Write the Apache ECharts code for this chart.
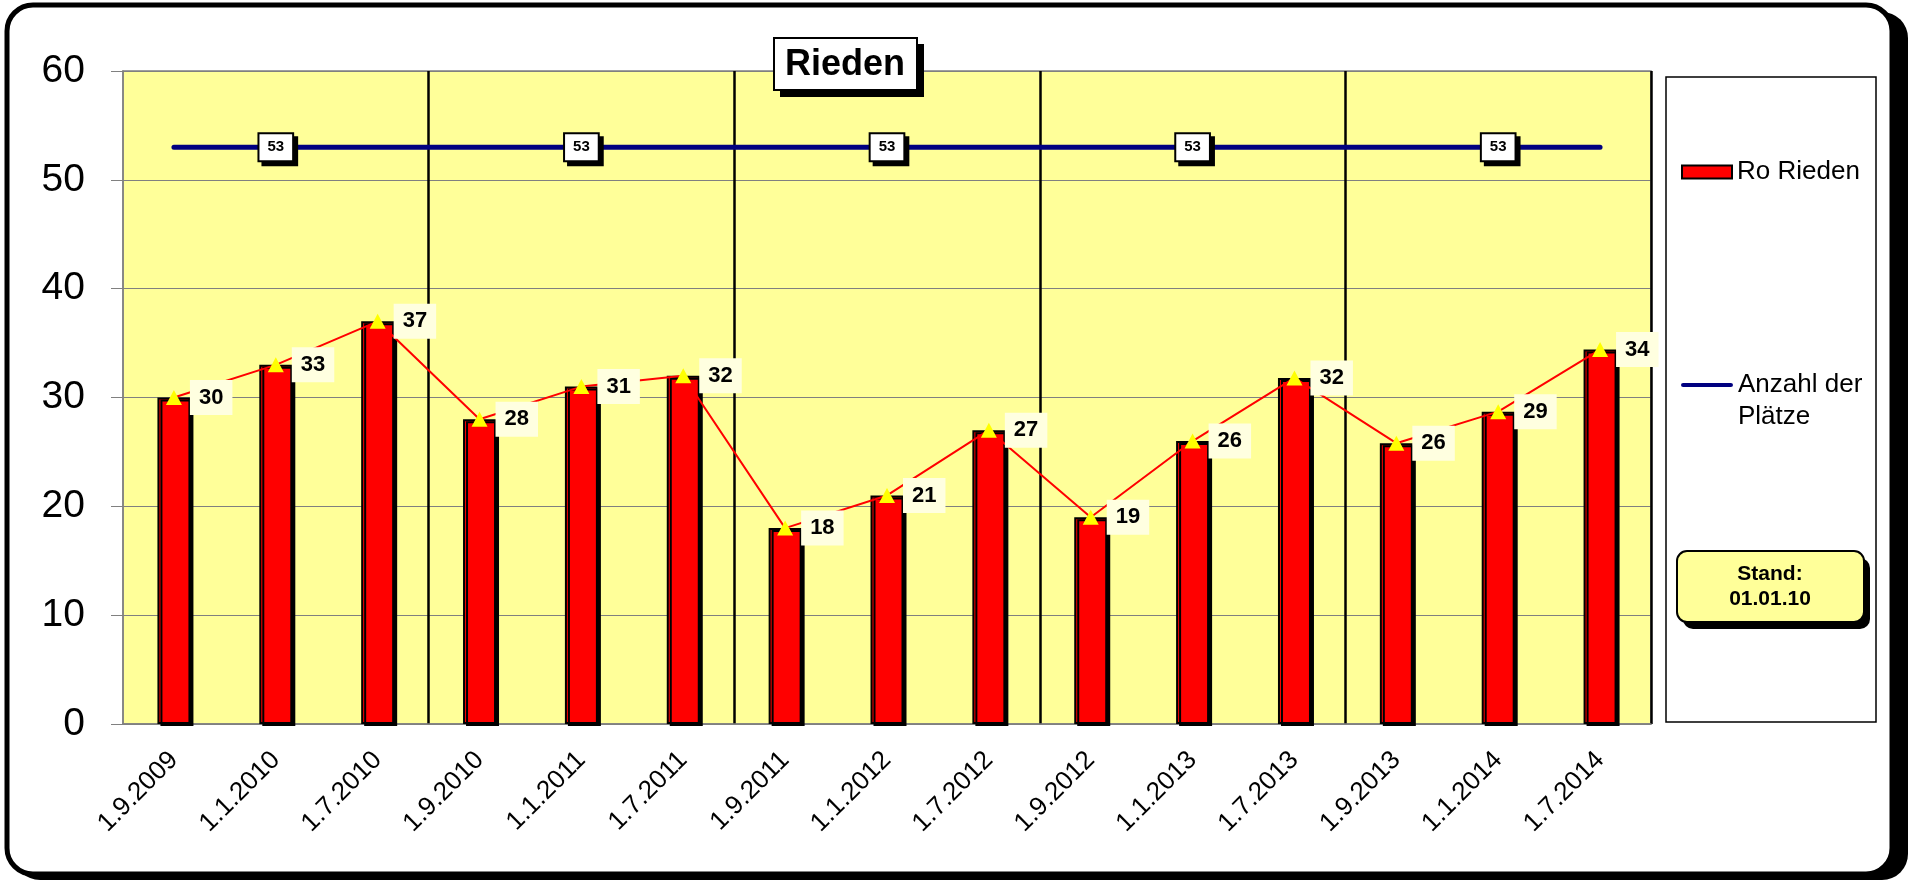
<!DOCTYPE html>
<html>
<head>
<meta charset="utf-8">
<title>Rieden</title>
<script src="https://cdn.jsdelivr.net/npm/echarts@6/dist/echarts.min.js"></script>
<style>
  html, body { margin: 0; padding: 0; background: #fff; }
  #chart { width: 1908px; height: 880px; }
</style>
</head>
<body>
<div id="chart"></div>
<script>
// Daten
const categories = [
  "1.9.2009", "1.1.2010", "1.7.2010",
  "1.9.2010", "1.1.2011", "1.7.2011",
  "1.9.2011", "1.1.2012", "1.7.2012",
  "1.9.2012", "1.1.2013", "1.7.2013",
  "1.9.2013", "1.1.2014", "1.7.2014",
];
const roRieden = [30, 33, 37, 28, 31, 32, 18, 21, 27, 19, 26, 31.8, 25.8, 28.7, 34.4];
const plaetze = [53, 53, 53, 53, 53, 53, 53, 53, 53, 53, 53, 53, 53, 53, 53];
const plaetzeLabelIdx = [1, 4, 7, 10, 13];
const yTicks = { min: 0, max: 60, interval: 10 };
const standText = "Stand:\n01.01.10";

const FONT = 'Arial, "Liberation Sans", sans-serif';
const C = {
  plot: "#FFFF99",
  bar: "#FF0000",
  navy: "#000080",
  grid: "#808080",
  labelBg: "#FFFFE0",
};

// Gruppengrenze alle 3 Kategorien
const groupEdge = (i) => i % 3 === 0;

const chart = echarts.init(document.getElementById("chart"), null, { renderer: "canvas" });

chart.setOption({
  animation: false,
  backgroundColor: "#fff",
  textStyle: { fontFamily: FONT, color: "#000" },
  grid: {
    left: 123, top: 71, right: 257, bottom: 156,
    show: true, backgroundColor: C.plot, borderColor: C.grid, borderWidth: 1.5,
  },
  legend: [
    {
      data: ["Ro Rieden"],
      left: 1676, top: 154,
      icon: "rect", itemWidth: 50, itemHeight: 13, itemGap: 0,
      itemStyle: { borderColor: "#000", borderWidth: 2, shadowColor: "transparent" },
      textStyle: { fontSize: 26, fontFamily: FONT, color: "#000" },
      selectedMode: false,
    },
    {
      data: ["Anzahl der Plätze"],
      left: 1676, top: 332,
      icon: "path://M2,0 L48,0 A2,2 0 0 1 48,4 L2,4 A2,2 0 0 1 2,0 Z",
      itemWidth: 52, itemHeight: 5,
      // erste Leerzeile, damit "Anzahl der" auf Höhe des Symbols steht
      formatter: () => "\nAnzahl der\nPlätze",
      textStyle: { fontSize: 26, lineHeight: 32, fontFamily: FONT, color: "#000" },
      selectedMode: false,
    },
  ],
  xAxis: {
    type: "category",
    data: categories,
    boundaryGap: true,
    axisLine: { lineStyle: { color: C.grid, width: 1.5 } },
    axisTick: { interval: (i) => groupEdge(i), length: 8, lineStyle: { color: C.grid } },
    splitLine: { show: true, interval: (i) => groupEdge(i) && i > 0, lineStyle: { color: "#000", width: 2.5 } },
    axisLabel: { interval: 0, rotate: 45, fontSize: 26, margin: 32, color: "#000", fontFamily: FONT },
  },
  yAxis: {
    type: "value",
    min: yTicks.min, max: yTicks.max, interval: yTicks.interval,
    axisLine: { show: true, lineStyle: { color: C.grid, width: 1.5 } },
    axisTick: { show: true, length: 12, lineStyle: { color: C.grid } },
    splitLine: { lineStyle: { color: C.grid, width: 1 } },
    axisLabel: { fontSize: 39, margin: 38, color: "#000", fontFamily: FONT },
  },
  series: [
    {
      name: "Ro Rieden",
      type: "bar",
      data: roRieden,
      barWidth: 33,
      z: 2,
      itemStyle: {
        color: C.bar, borderColor: "#000", borderWidth: 2,
        shadowColor: "#000", shadowOffsetX: 3, shadowOffsetY: 2, shadowBlur: 0,
      },
    },
    {
      name: "Verlauf",
      type: "line",
      data: roRieden,
      z: 4,
      symbol: "triangle",
      symbolSize: [16, 15],
      itemStyle: { color: "#FFFF00" },
      lineStyle: { color: "#FF0000", width: 2 },
      label: {
        show: true, position: "right", distance: 8,
        formatter: (p) => String(Math.round(p.value)),
        fontSize: 22, fontWeight: "bold", color: "#000", fontFamily: FONT,
        backgroundColor: C.labelBg, padding: [7, 9, 6, 9],
      },
    },
    {
      name: "Anzahl der Plätze",
      type: "line",
      z: 3,
      data: plaetze.map((v, i) => ({
        value: v,
        label: { show: plaetzeLabelIdx.includes(i) },
      })),
      symbol: "circle",
      symbolSize: 1,
      showSymbol: true,
      itemStyle: { color: C.navy },
      lineStyle: { color: C.navy, width: 5, cap: "round" },
      label: {
        position: "inside",
        fontSize: 15, fontWeight: "bold", color: "#000", fontFamily: FONT,
        backgroundColor: "#fff", borderColor: "#000", borderWidth: 2,
        padding: [6, 8, 5, 8],
        shadowColor: "#000", shadowOffsetX: 4, shadowOffsetY: 4, shadowBlur: 0,
      },
    },
  ],
  graphic: [
    // äußerer Rahmen mit Schatten
    {
      type: "rect", z: -10, silent: true,
      shape: { x: 14, y: 12, width: 1894, height: 868, r: 26 },
      style: { fill: "#000" },
    },
    {
      type: "rect", z: -9, silent: true,
      shape: { x: 7, y: 5, width: 1885, height: 869, r: 26 },
      style: { fill: "#fff", stroke: "#000", lineWidth: 5 },
    },
    // Legendenrahmen
    {
      type: "rect", z: -5, silent: true,
      shape: { x: 1666, y: 77, width: 210, height: 645 },
      style: { fill: "#fff", stroke: "#000", lineWidth: 1.5 },
    },
    // Stand-Kasten
    {
      type: "rect", z: 5, silent: true,
      shape: { x: 1683, y: 558, width: 187, height: 71, r: 10 },
      style: { fill: "#000" },
    },
    {
      type: "rect", z: 6, silent: true,
      shape: { x: 1677, y: 551, width: 187, height: 71, r: 10 },
      style: { fill: C.plot, stroke: "#000", lineWidth: 2 },
    },
    {
      type: "text", z: 7, silent: true,
      x: 1770, y: 587,
      style: {
        text: standText, fontSize: 21, fontWeight: "bold", fontFamily: FONT,
        fill: "#000", align: "center", verticalAlign: "middle", lineHeight: 25,
      },
    },
    // Titelkasten
    {
      type: "rect", z: 20, silent: true,
      shape: { x: 780, y: 44, width: 144, height: 53 },
      style: { fill: "#000" },
    },
    {
      type: "rect", z: 21, silent: true,
      shape: { x: 774, y: 38, width: 143, height: 52 },
      style: { fill: "#fff", stroke: "#000", lineWidth: 2 },
    },
    {
      type: "text", z: 22, silent: true,
      x: 845, y: 65,
      style: {
        text: "Rieden", fontSize: 36, fontWeight: "bold", fontFamily: FONT,
        fill: "#000", align: "center", verticalAlign: "middle",
      },
    },
  ],
});
</script>
</body>
</html>
